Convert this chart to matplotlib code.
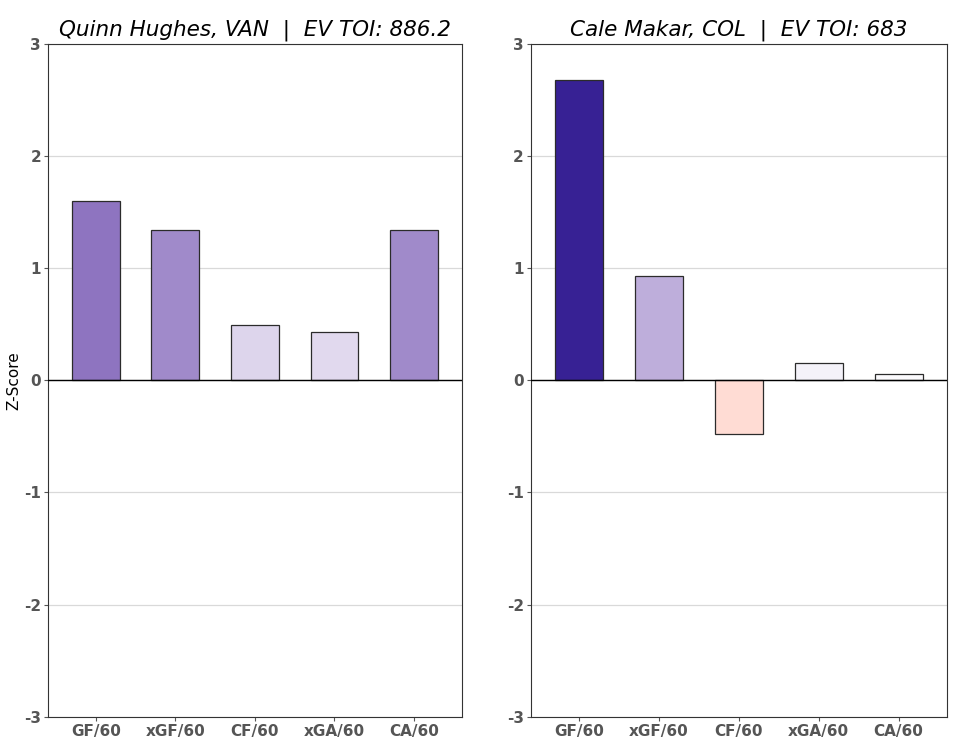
import matplotlib
matplotlib.use("Agg")
import matplotlib.pyplot as plt
from matplotlib.colors import LinearSegmentedColormap, Normalize
import numpy as np

plt.rcParams["axes.unicode_minus"] = False

stats = ["GF/60", "xGF/60", "CF/60", "xGA/60", "CA/60"]
players = ["Quinn Hughes, VAN  |  EV TOI: 886.2", "Cale Makar, COL  |  EV TOI: 683"]
hughes = [1.60, 1.34, 0.49, 0.43, 1.34]
makar = [2.68, 0.93, -0.48, 0.15, 0.06]

# red -> white -> purple, scaled on -3..3
cmap = LinearSegmentedColormap.from_list("zcmap", [
    (0.0, "#d0473a"),
    (0.42, "#ffdcd4"),
    (0.5, "#ffffff"),
    (0.5 + 1.0 / 6, "#b9a8d8"),
    (0.5 + 1.6 / 6, "#8f75c0"),
    (0.5 + 2.7 / 6, "#372194"),
    (1.0, "#2a1480"),
])
norm = Normalize(-3, 3)

fig = plt.figure(figsize=(9.6, 7.56), dpi=100)
ax1 = fig.add_axes([0.05, 0.052, 0.431, 0.89])
ax2 = fig.add_axes([0.553, 0.052, 0.433, 0.89])

for ax, vals, title in zip([ax1, ax2], [hughes, makar], players):
    x = np.arange(len(stats))
    ax.bar(x, vals, width=0.6, color=cmap(norm(np.array(vals))),
           edgecolor="#2b2b2b", linewidth=0.9, zorder=3)
    ax.set_ylim(-3, 3)
    ax.set_xlim(-0.6, 4.6)
    ax.set_yticks(range(-3, 4))
    ax.set_xticks(x)
    ax.set_xticklabels(stats)
    ax.yaxis.grid(True, color="#d9d9d9", linewidth=0.9, zorder=0)
    ax.axhline(0, color="black", linewidth=1.0, zorder=4)
    for lab in ax.get_xticklabels() + ax.get_yticklabels():
        lab.set_fontweight("bold")
        lab.set_color("#4a4a4a")
        lab.set_fontsize(11)
    for s in ax.spines.values():
        s.set_color("#333333")
    ax.tick_params(colors="#555555", length=3, pad=2)
    ax.set_title(title, fontsize=15.5, style="italic", pad=6)

ax1.set_ylabel("Z-Score", fontsize=11, labelpad=2)

fig.savefig("out.png", dpi=100)
